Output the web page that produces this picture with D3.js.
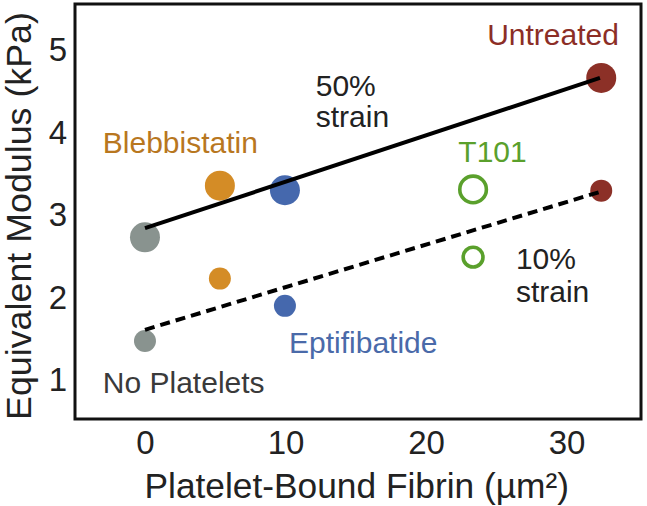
<!DOCTYPE html>
<html>
<head>
<meta charset="utf-8">
<script src="https://cdn.jsdelivr.net/npm/d3@7"></script>
<style>
  body { margin: 0; background: #fff; }
  svg text { font-family: "Liberation Sans", Arial, sans-serif; }
</style>
</head>
<body>
<div id="chart"></div>
<script>
// treatments, platelet-bound fibrin (um^2) and modulus (kPa) at 50% / 10% strain
var groups = ['No Platelets', 'Blebbistatin', 'Eptifibatide', 'T101', 'Untreated'],
    fibrin = [0, 5.33, 9.96, 23.35, 32.47],
    strain50 = [2.72, 3.345, 3.29, 3.30, 4.65],
    strain10 = [1.465, 2.22, 1.89, 2.48, 3.285],
    fitX = [0, 32.38],
    fit50 = [2.83, 4.65],
    fit10 = [1.60, 3.27],
    xTicks = [0, 10, 20, 30],
    yTicks = [1, 2, 3, 4, 5];

var colors = {
    'No Platelets': '#89938f',
    'Blebbistatin': '#d48c26',
    'Eptifibatide': '#4568ad',
    'T101': '#5aa02c',
    'Untreated': '#8c3027'
};
var textColors = {
    'No Platelets': '#3a3a3a',
    'Blebbistatin': '#b8771f',
    'Eptifibatide': '#4a6aa9',
    'T101': '#5aa02c',
    'Untreated': '#8c2e26'
};

// label anchors in data units
var labels = [
    { text: 'Untreated', x: 24.35, y: 5.048, g: 'Untreated' },
    { text: 'T101', x: 22.3, y: 3.636, g: 'T101' },
    { text: 'Blebbistatin', x: -3.0, y: 3.737, g: 'Blebbistatin' },
    { text: 'Eptifibatide', x: 10.25, y: 1.316, g: 'Eptifibatide' },
    { text: 'No Platelets', x: -3.0, y: 0.832, g: 'No Platelets' },
    { text: '50%', x: 12.15, y: 4.431 },
    { text: 'strain', x: 12.15, y: 4.059 },
    { text: '10%', x: 26.4, y: 2.333 },
    { text: 'strain', x: 26.4, y: 1.941 }
];

var width = 647, height = 506,
    plotL = 75, plotR = 641, plotT = 4, plotB = 419;

var svg = d3.select('#chart').append('svg')
    .attr('width', width)
    .attr('height', height);

var x = d3.scaleLinear().domain([-4.98, 35.3]).range([plotL, plotR]);
var y = d3.scaleLinear().domain([0.52, 5.545]).range([plotB, plotT]);

// axes, labels only
var xAxis = svg.append('g')
    .attr('transform', 'translate(0,' + plotB + ')')
    .call(d3.axisBottom(x).tickValues(xTicks).tickSize(0).tickFormat(d3.format('d')));
xAxis.select('.domain').remove();
xAxis.selectAll('text')
    .attr('y', 35).attr('dy', 0)
    .attr('font-size', 33).attr('fill', '#222');

var yAxis = svg.append('g')
    .attr('transform', 'translate(' + plotL + ',0)')
    .call(d3.axisLeft(y).tickValues(yTicks).tickSize(0).tickFormat(d3.format('d')));
yAxis.select('.domain').remove();
yAxis.selectAll('text')
    .attr('x', -8).attr('dy', '0.35em')
    .attr('font-size', 33).attr('fill', '#222');

svg.selectAll('g').attr('font-family', null).attr('font-size', null);

// axis titles
svg.append('text')
    .attr('x', (x(0) + x(30)) / 2 + 1)
    .attr('y', 498)
    .attr('text-anchor', 'middle')
    .attr('font-size', 35.3)
    .attr('fill', '#222')
    .text('Platelet-Bound Fibrin (µm²)');

svg.append('text')
    .attr('transform', 'translate(31,216) rotate(-90)')
    .attr('text-anchor', 'middle')
    .attr('font-size', 35.8)
    .attr('fill', '#222')
    .text('Equivalent Modulus (kPa)');

// points
var pts = [];
groups.forEach(function(g, i) {
    pts.push({ g: g, x: fibrin[i], y: strain50[i], big: true });
    pts.push({ g: g, x: fibrin[i], y: strain10[i], big: false });
});

svg.append('g').selectAll('circle')
    .data(pts)
    .enter().append('circle')
    .attr('cx', function(d) { return x(d.x); })
    .attr('cy', function(d) { return y(d.y); })
    .attr('r', function(d) {
        if (d.g === 'T101') return d.big ? 13.3 : 9.9;
        return d.big ? 15 : 11;
    })
    .attr('fill', function(d) { return d.g === 'T101' ? 'none' : colors[d.g]; })
    .attr('stroke', function(d) { return d.g === 'T101' ? colors[d.g] : 'none'; })
    .attr('stroke-width', 3.6);

// fit lines
var line = d3.line()
    .x(function(d) { return x(d[0]); })
    .y(function(d) { return y(d[1]); });

svg.append('path')
    .datum(d3.zip(fitX, fit50))
    .attr('d', line)
    .attr('fill', 'none')
    .attr('stroke', '#000')
    .attr('stroke-width', 4);

svg.append('path')
    .datum(d3.zip(fitX, fit10))
    .attr('d', line)
    .attr('fill', 'none')
    .attr('stroke', '#000')
    .attr('stroke-width', 4)
    .attr('stroke-dasharray', '10,6');

// annotations
svg.append('g').selectAll('text')
    .data(labels)
    .enter().append('text')
    .attr('x', function(d) { return x(d.x); })
    .attr('y', function(d) { return y(d.y); })
    .attr('font-size', 30)
    .attr('fill', function(d) { return d.g ? textColors[d.g] : '#222'; })
    .text(function(d) { return d.text; });

// frame
svg.append('rect')
    .attr('x', plotL)
    .attr('y', plotT)
    .attr('width', plotR - plotL)
    .attr('height', plotB - plotT)
    .attr('fill', 'none')
    .attr('stroke', '#111')
    .attr('stroke-width', 3);
</script>
</body>
</html>
